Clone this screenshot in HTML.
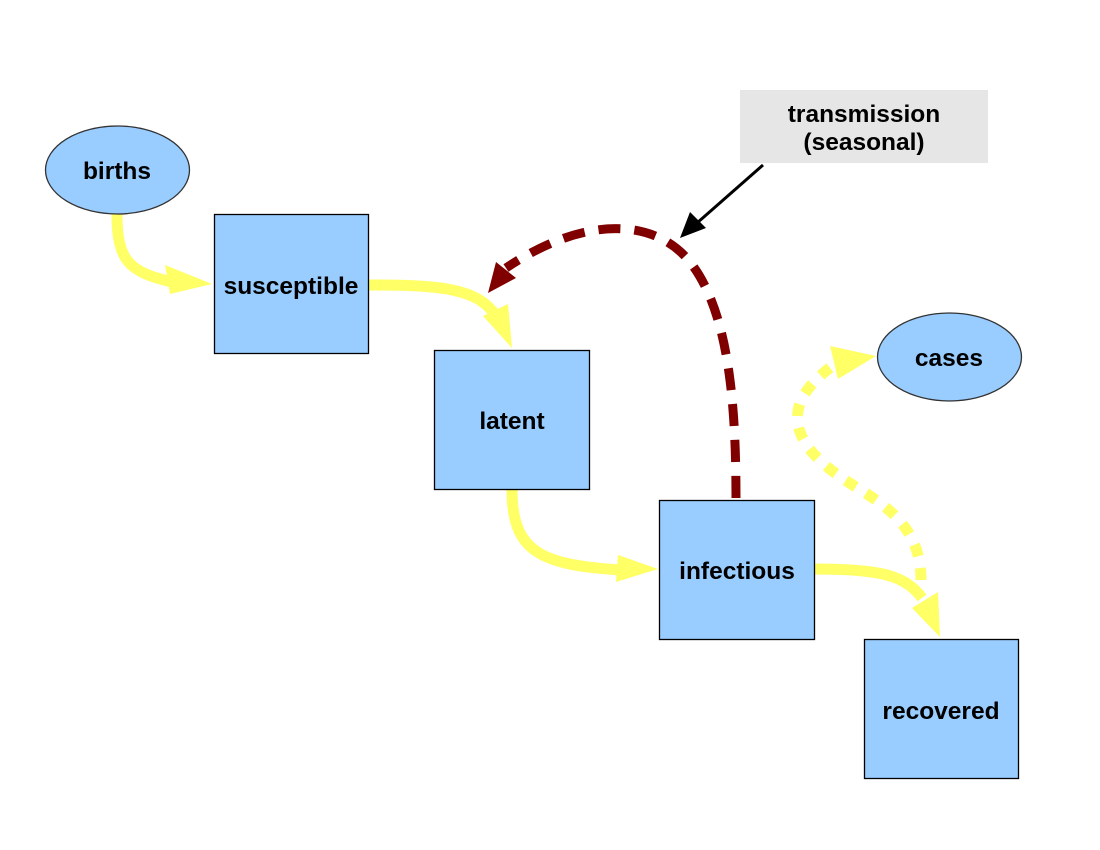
<!DOCTYPE html>
<html><head><meta charset="utf-8"><style>
html,body{margin:0;padding:0;background:#fff;}
svg{display:block;}
text{font-family:"Liberation Sans",sans-serif;font-weight:bold;font-size:24.5px;fill:#000;text-anchor:middle;}
</style></head><body>
<svg width="1100" height="850" viewBox="0 0 1100 850">
<rect x="740" y="90" width="248" height="73" fill="#e6e6e6"/>
<text x="864" y="122">transmission</text>
<text x="864" y="150">(seasonal)</text>
<line x1="763" y1="165" x2="697" y2="223" stroke="#000" stroke-width="3"/>
<polygon points="680,238 690,212 706,228" fill="#000"/>

<g fill="none" stroke="#ffff66" stroke-width="11">
<path d="M117,214 C117,262 130,272 172,282"/>
<path d="M368,285 C440,285 478,288 496,316"/>
<path d="M512,489 C512,552 540,565 622,570"/>
<path d="M814,569 C880,569 905,575 922,598"/>
<path d="M921,580 C921,520 875,500 845,480 C800,450 770,410 835,364" stroke-dasharray="12,12"/>
</g>
<g fill="#ffff66">
<polygon points="212,284 165,265 170,294"/>
<polygon points="512,348 483,316 508,304"/>
<polygon points="658,569 618,555 616,582"/>
<polygon points="940,637 912,608 938,592"/>
<polygon points="876,356 830,346 838,379"/>
</g>
<path d="M736,498 C736,400 728,310 690,262 C655,218 585,215 506,268" fill="none" stroke="#800000" stroke-width="9" stroke-dasharray="22,14"/>
<polygon points="488,293 496,262 516,278" fill="#800000"/>

<rect x="214.5" y="214.5" width="154" height="139" fill="#99ccff" stroke="#000" stroke-width="1.3"/>
<rect x="434.5" y="350.5" width="155" height="139" fill="#99ccff" stroke="#000" stroke-width="1.3"/>
<rect x="659.5" y="500.5" width="155" height="139" fill="#99ccff" stroke="#000" stroke-width="1.3"/>
<rect x="864.5" y="639.5" width="154" height="139" fill="#99ccff" stroke="#000" stroke-width="1.3"/>
<ellipse cx="117.5" cy="170" rx="72" ry="44" fill="#99ccff" stroke="#333" stroke-width="1.3"/>
<ellipse cx="949.5" cy="357" rx="72" ry="44" fill="#99ccff" stroke="#333" stroke-width="1.3"/>
<text x="117" y="179">births</text>
<text x="291" y="294">susceptible</text>
<text x="512" y="429">latent</text>
<text x="737" y="579">infectious</text>
<text x="941" y="719">recovered</text>
<text x="949" y="366">cases</text>
</svg>
</body></html>
